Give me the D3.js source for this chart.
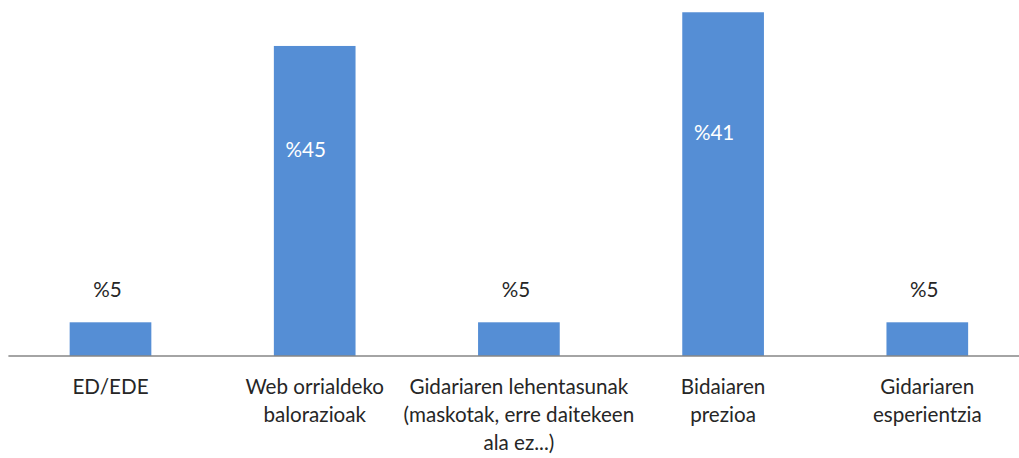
<!DOCTYPE html>
<html>
<head>
<meta charset="utf-8">
<script src="https://cdn.jsdelivr.net/npm/d3@7"></script>
<style>
  html, body { margin: 0; padding: 0; background: #fff; }
  svg { display: block; }
  text { font-family: Lato, "Open Sans", sans-serif; }
</style>
</head>
<body>
<svg id="chart" width="1019" height="458"></svg>
<script>
const categories = [
  ["ED/EDE"],
  ["Web orrialdeko", "balorazioak"],
  ["Gidariaren lehentasunak", "(maskotak, erre daitekeen", "ala ez...)"],
  ["Bidaiaren", "prezioa"],
  ["Gidariaren", "esperientzia"]
];
const values = [5, 46, 5, 51, 5];
const valueLabels = ["%5", "%45", "%5", "%41", "%5"];

const W = 1019, H = 458;
const svg = d3.select("#chart");

const x = d3.scaleBand()
  .domain(d3.range(values.length))
  .range([8.4, 1029.4])
  .paddingInner(0.6)
  .paddingOuter(0.3);

const y = d3.scaleLinear().domain([0, 50]).range([356, 19]);

// bars
svg.append("g").selectAll("rect")
  .data(values)
  .join("rect")
  .attr("x", (d, i) => x(i))
  .attr("width", x.bandwidth())
  .attr("y", d => y(d))
  .attr("height", d => y(0) - y(d))
  .attr("fill", "#558ED5");

// axis line
const axis = d3.axisBottom(x).tickSize(0).tickFormat("");
const gx = svg.append("g").attr("transform", `translate(0,${y(0)})`).call(axis);
gx.select(".domain").attr("stroke", "#868686").attr("stroke-width", 1.3)
  .attr("d", `M8.4,0H${W}`);

// font sizing to match reference width
const probe = svg.append("text").attr("font-size", 20).text("Gidariaren lehentasunak");
const fs = 20 * 219 / probe.node().getComputedTextLength();
probe.remove();

// category labels
const cats = svg.append("g");
categories.forEach((lines, i) => {
  const t = cats.append("text")
    .attr("x", x(i) + x.bandwidth() / 2)
    .attr("y", 393.5)
    .attr("text-anchor", "middle")
    .attr("font-size", fs)
    .attr("fill", "#262626");
  lines.forEach((ln, j) => {
    t.append("tspan")
      .attr("x", x(i) + x.bandwidth() / 2)
      .attr("dy", j === 0 ? 0 : 28)
      .text(ln);
  });
});

// value labels
svg.append("g").selectAll("text")
  .data(values)
  .join("text")
  .attr("text-anchor", "middle")
  .attr("font-size", fs)
  .attr("x", (d, i) => x(i) + x.bandwidth() / 2 + (d > 20 ? -9 : -3))
  .attr("y", d => d > 20 ? (y(d) + y(0)) / 2 - 44 : y(d) - 25)
  .attr("fill", d => d > 20 ? "#ffffff" : "#262626")
  .text((d, i) => valueLabels[i]);
</script>
</body>
</html>
